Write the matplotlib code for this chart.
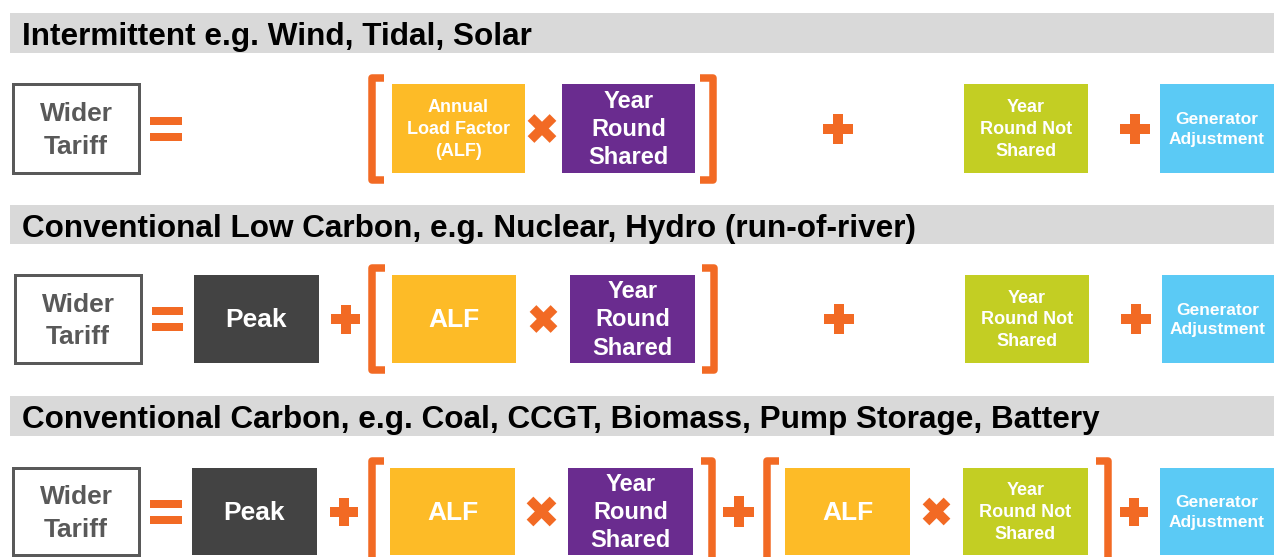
import matplotlib
matplotlib.use("Agg")
import matplotlib.pyplot as plt
from matplotlib.patches import Rectangle

# ================= CONTENT =================
HEADERS = [
    "Intermittent e.g. Wind, Tidal, Solar",
    "Conventional Low Carbon, e.g. Nuclear, Hydro (run-of-river)",
    "Conventional Carbon, e.g. Coal, CCGT, Biomass, Pump Storage, Battery",
]
WIDER_LABEL = "Wider\nTariff"
PEAK_LABEL = "Peak"
ALF_LONG = "Annual\nLoad Factor\n(ALF)"
ALF_SHORT = "ALF"
YRS_LABEL = "Year\nRound\nShared"
YRNS_LABEL = "Year\nRound Not\nShared"
GA_LABEL = "Generator\nAdjustment"

# ================= STYLE =================
ORANGE = "#F26A24"
YELLOW = "#FDBB27"
PURPLE = "#6A2C8F"
DARK = "#434343"
GREEN = "#C3CE23"
BLUE = "#5BCAF5"
HEADER_GRAY = "#D9D9D9"
OUTLINE = "#595959"
FONT = "Liberation Sans"

W, H = 1274, 557
PX = 72 / 100  # points per pixel at dpi 100

# row geometry (pixels, y downwards)
HEADER_Y = [(13, 53), (205, 244), (396, 436)]
ROW_Y = [(84, 173), (275, 363), (468, 555)]

# layout of each row: (kind, x0, x1)
ROW_LAYOUT = [
    [("wider", 13, 139), ("eq", 150, 182), ("lbr", 368, 384),
     ("alf_long", 392, 525), ("x", 528, 556), ("yrs", 562, 695),
     ("rbr", 700, 717), ("+", 823, 853), ("yrns", 964, 1088),
     ("+", 1120, 1150), ("ga", 1160, 1290)],
    [("wider", 15, 141), ("eq", 152, 183), ("peak", 194, 319),
     ("+", 331, 360), ("lbr", 368, 385), ("alf", 392, 516),
     ("x", 530, 557), ("yrs", 570, 695), ("rbr", 702, 718),
     ("+", 824, 854), ("yrns", 965, 1089), ("+", 1121, 1151),
     ("ga", 1162, 1290)],
    [("wider", 13, 139), ("eq", 150, 182), ("peak", 192, 317),
     ("+", 330, 358), ("lbr", 368, 384), ("alf", 390, 515),
     ("x", 527, 556), ("yrs", 568, 693), ("rbr", 701, 716),
     ("+", 723, 754), ("lbr", 763, 779), ("alf", 785, 910),
     ("x", 923, 950), ("yrns", 963, 1088), ("rbr", 1096, 1112),
     ("+", 1120, 1148), ("ga", 1160, 1290)],
]

# kind: (colour, label, font size, line spacing)
BOXES = {
    "peak": (DARK, PEAK_LABEL, 19, 1.2),
    "alf": (YELLOW, ALF_SHORT, 19, 1.2),
    "alf_long": (YELLOW, ALF_LONG, 13, 1.4),
    "yrs": (PURPLE, YRS_LABEL, 17, 1.3),
    "yrns": (GREEN, YRNS_LABEL, 13, 1.38),
    "ga": (BLUE, GA_LABEL, 12.5, 1.4),
}


def box(ax, x0, x1, y0, y1, color, label, size, spacing):
    ax.add_patch(Rectangle((x0, y0), x1 - x0, y1 - y0, facecolor=color,
                           edgecolor="none"))
    ax.text((x0 + min(x1, W)) / 2, (y0 + y1) / 2 + 1, label, color="white",
            fontsize=size, fontweight="bold", family=FONT,
            ha="center", va="center", linespacing=spacing)


def wider(ax, x0, x1, y0, y1):
    ax.add_patch(Rectangle((x0, y0), x1 - x0, y1 - y0, facecolor="white",
                           edgecolor=OUTLINE, linewidth=3 * PX))
    ax.text((x0 + x1) / 2, (y0 + y1) / 2 + 2, WIDER_LABEL, color=OUTLINE,
            fontsize=19, fontweight="bold", family=FONT,
            ha="center", va="center", linespacing=1.45)


def equals(ax, x0, x1, yc):
    for dy in (-12, 4):
        ax.add_patch(Rectangle((x0, yc + dy), x1 - x0, 8, facecolor=ORANGE,
                               edgecolor="none"))


def plus(ax, x0, x1, yc):
    xc = (x0 + x1) / 2
    half = (x1 - x0) / 2
    t = 10
    ax.add_patch(Rectangle((x0, yc - t / 2), x1 - x0, t, facecolor=ORANGE,
                           edgecolor="none"))
    ax.add_patch(Rectangle((xc - t / 2, yc - half), t, 2 * half,
                           facecolor=ORANGE, edgecolor="none"))


def times(ax, x0, x1, yc):
    h = (x1 - x0) / 2 - 3
    xc = (x0 + x1) / 2
    for s in (1, -1):
        ax.plot([xc - h, xc + h], [yc - s * h, yc + s * h], color=ORANGE,
                linewidth=9.5 * PX, solid_capstyle="butt")


def bracket(ax, x0, x1, yc, left=True):
    y0, y1 = yc - 51, yc + 51
    if left:
        xs = [x1, x0 + 4, x0 + 4, x1]
    else:
        xs = [x0, x1 - 4, x1 - 4, x0]
    ax.plot(xs, [y0, y0, y1, y1], color=ORANGE, linewidth=7.5 * PX,
            solid_joinstyle="round", solid_capstyle="butt")


fig = plt.figure(figsize=(W / 100, H / 100), dpi=100)
ax = fig.add_axes([0, 0, 1, 1])
ax.set_xlim(0, W)
ax.set_ylim(H, 0)
ax.axis("off")

for (hy0, hy1), title in zip(HEADER_Y, HEADERS):
    ax.add_patch(Rectangle((10, hy0), W - 10, hy1 - hy0,
                           facecolor=HEADER_GRAY, edgecolor="none"))
    ax.text(22, (hy0 + hy1) / 2 + 4, title, fontsize=22.7, fontweight="bold",
            family=FONT, color="black", ha="left", va="center")

for (y0, y1), layout in zip(ROW_Y, ROW_LAYOUT):
    yc = (y0 + y1) / 2
    for kind, x0, x1 in layout:
        if kind == "wider":
            wider(ax, x0, x1, y0, y1)
        elif kind == "eq":
            equals(ax, x0, x1, yc)
        elif kind == "+":
            plus(ax, x0, x1, yc)
        elif kind == "x":
            times(ax, x0, x1, yc)
        elif kind == "lbr":
            bracket(ax, x0, x1, yc, left=True)
        elif kind == "rbr":
            bracket(ax, x0, x1, yc, left=False)
        else:
            color, label, size, spacing = BOXES[kind]
            box(ax, x0, x1, y0, y1, color, label, size, spacing)

fig.savefig("out.png", dpi=100)
